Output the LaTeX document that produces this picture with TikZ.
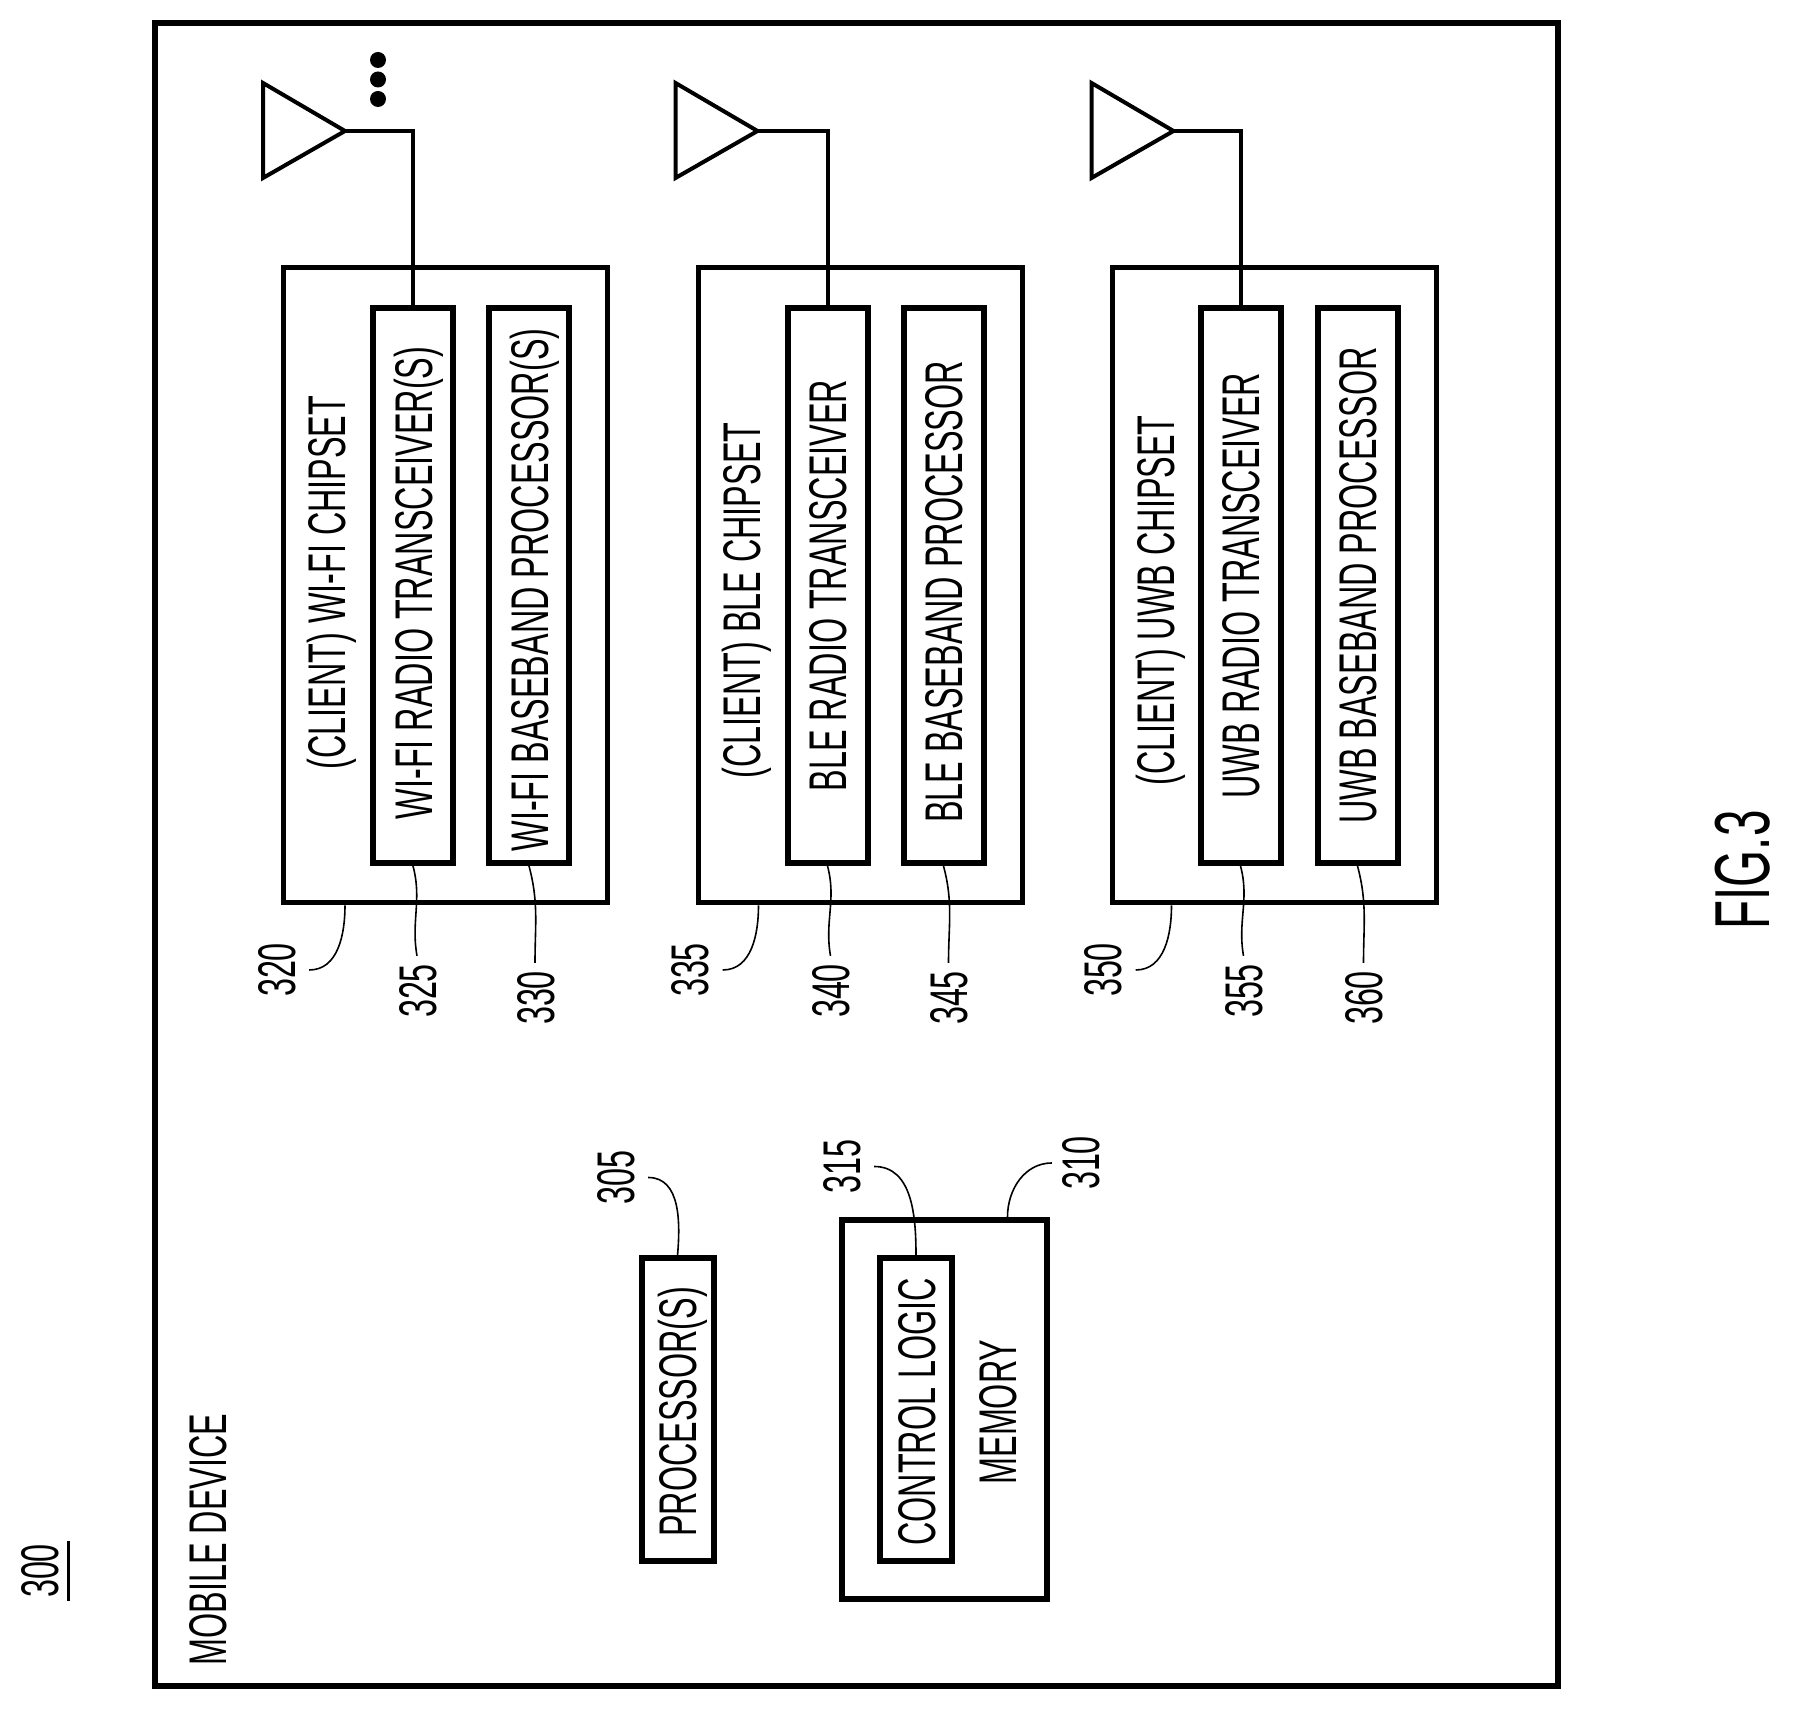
\documentclass[tikz,border=0pt]{standalone}
\usepackage{fontspec}
\setmainfont[FakeStretch=0.61]{Liberation Sans}
\usetikzlibrary{positioning,calc}
\tikzset{patent/.style={x=1pt,y=1pt,on grid,font=\fontsize{53}{60}\selectfont}}
\tikzset{framebox/.style={draw,line width=6pt,minimum width=1403pt,minimum height=1662.5pt}}
\tikzset{outerblock/.style={draw,line width=5pt,rotate=90,minimum width=635pt,minimum height=324pt}}
\tikzset{innerblock/.style={draw,line width=6pt,rotate=90,minimum width=555pt,minimum height=80pt}}
\tikzset{shortblock/.style={draw,line width=6pt,rotate=90,minimum width=302pt,minimum height=72pt}}
\tikzset{textlabel/.style={rotate=90,inner sep=0pt,text height=38pt,text depth=0pt}}
\tikzset{refnum/.style={textlabel,inner xsep=8pt,inner ysep=14pt}}
\tikzset{antline/.style={line width=4pt}}
\tikzset{callout/.style={line width=1.6pt}}
\tikzset{moredot/.style={circle,fill,inner sep=0pt,minimum size=16pt}}

\begin{document}
\begin{tikzpicture}[patent]
  \useasboundingbox (0,0) rectangle (1793,1708);
  \node[framebox] (device) at (856.5,853.25) {};
  \node[textlabel] (devicetext) at (207,168.5) {MOBILE DEVICE};
  \node[textlabel,inner xsep=3pt,inner ysep=10pt] (figurenum) at (39,137) {300};
  \draw[line width=3pt] (figurenum.south west) -- (figurenum.south east);
  \node[textlabel,font=\fontsize{78}{86}\selectfont,text height=51pt] (figname) at (1744,838) {FIG.3};
  % chipsets
  \node[outerblock] (wifichip) at (445,1122.5) {};
  \node[outerblock] (blechip) [right=415.5pt of wifichip] {};
  \node[outerblock] (uwbchip) [right=414pt of blechip] {};
  \node[textlabel] (wifitext) [left=118.5pt of wifichip,xshift=3pt] {(CLIENT) WI-FI CHIPSET};
  \node[textlabel] (bletext) [left=119pt of blechip,xshift=-15pt] {(CLIENT) BLE CHIPSET};
  \node[textlabel] (uwbtext) [left=119pt of uwbchip,xshift=-15pt] {(CLIENT) UWB CHIPSET};
  \node[innerblock] (wifiradio) [left=32pt of wifichip] {};
  \node[innerblock] (wifibase) [right=84pt of wifichip] {};
  \node[innerblock] (bleradio) [left=33pt of blechip] {};
  \node[innerblock] (blebase) [right=83pt of blechip] {};
  \node[innerblock] (uwbradio) [left=34pt of uwbchip] {};
  \node[innerblock] (uwbbase) [right=83pt of uwbchip] {};
  \node[textlabel,xshift=2.5pt] (wifiradiotext) at (wifiradio) {WI-FI RADIO TRANSCEIVER(S)};
  \node[textlabel,xshift=-4.5pt] (wifibasetext) at (wifibase) {WI-FI BASEBAND PROCESSOR(S)};
  \node[textlabel] (bleradiotext) at (bleradio) {BLE RADIO TRANSCEIVER};
  \node[textlabel,xshift=-6.5pt] (blebasetext) at (blebase) {BLE BASEBAND PROCESSOR};
  \node[textlabel] (uwbradiotext) at (uwbradio) {UWB RADIO TRANSCEIVER};
  \node[textlabel] (uwbbasetext) at (uwbbase) {UWB BASEBAND PROCESSOR};
  % antennas
  \coordinate[above left=454.5pt and 68pt of wifiradio] (wifiant);
  \coordinate[above left=454.5pt and 70pt of bleradio] (bleant);
  \coordinate[above left=454.5pt and 67pt of uwbradio] (uwbant);
  \draw[antline] (wifiant) -- ++(-82,48) -- ++(0,-95) -- cycle;
  \draw[antline] (bleant) -- ++(-82,48) -- ++(0,-95) -- cycle;
  \draw[antline] (uwbant) -- ++(-82,48) -- ++(0,-95) -- cycle;
  \draw[antline] (wifiant) -| (wifiradio.east);
  \draw[antline] (bleant) -| (bleradio.east);
  \draw[antline] (uwbant) -| (uwbradio.east);
  \node[moredot] (dota) at (378,1648) {};
  \node[moredot] (dotb) [below=19.5pt of dota] {};
  \node[moredot] (dotc) [below=19.5pt of dotb] {};
  % memory and processor
  \node[draw,line width=6pt,rotate=90,minimum width=379pt,minimum height=205pt] (memory) at (944.5,298.5) {};
  \node[textlabel,xshift=-2.5pt] (memorytext) [right=52.5pt of memory] {MEMORY};
  \node[shortblock] (logic) [left=28.5pt of memory] {};
  \node[shortblock] (processor) [left=267pt of memory] {};
  \node[textlabel,xshift=-2.5pt] (logictext) at (logic) {CONTROL LOGIC};
  \node[textlabel,xshift=-2.5pt] (processortext) at (processor) {PROCESSOR(S)};
  % reference numbers
  \node[refnum] (n320) [below left=384.5pt and 169pt of wifichip] {320};
  \node[refnum] (n325) [below right=405.5pt and 4pt of wifiradio] {325};
  \node[refnum] (n330) [below right=412.5pt and 6pt of wifibase] {330};
  \node[refnum] (n335) [below left=384.5pt and 171pt of blechip] {335};
  \node[refnum] (n340) [below right=405.5pt and 3pt of bleradio] {340};
  \node[refnum] (n345) [below right=412.5pt and 5pt of blebase] {345};
  \node[refnum] (n350) [below left=384.5pt and 172pt of uwbchip] {350};
  \node[refnum] (n355) [below right=405.5pt and 3pt of uwbradio] {355};
  \node[refnum] (n360) [below right=412.5pt and 6pt of uwbbase] {360};
  \node[refnum] (n305) [above left=232pt and 62.5pt of processor] {305};
  \node[refnum] (n315) [above left=243pt and 75pt of logic] {315};
  \node[refnum,inner ysep=9pt] (n310) [above right=246.5pt and 135.5pt of memory] {310};
  \path[callout]
    (n320.south) edge[out=0,in=-90] ($(wifichip.west)+(-100,0)$)
    (n325.east) edge[out=100,in=-75] (wifiradio.west)
    (n330.east) edge[out=90,in=-75] (wifibase.west)
    (n335.south) edge[out=0,in=-90] ($(blechip.west)+(-102,0)$)
    (n340.east) edge[out=100,in=-75] (bleradio.west)
    (n345.east) edge[out=90,in=-75] (blebase.west)
    (n350.south) edge[out=0,in=-90] ($(uwbchip.west)+(-103,0)$)
    (n355.east) edge[out=100,in=-75] (uwbradio.west)
    (n360.east) edge[out=90,in=-75] (uwbbase.west)
    (n305.south) edge[out=0,in=85] (processor.east)
    (n315.south) edge[out=0,in=90] (logic.east)
    (n310.north) edge[out=180,in=90] ($(memory.east)+(63,0)$);
\end{tikzpicture}
\end{document}
